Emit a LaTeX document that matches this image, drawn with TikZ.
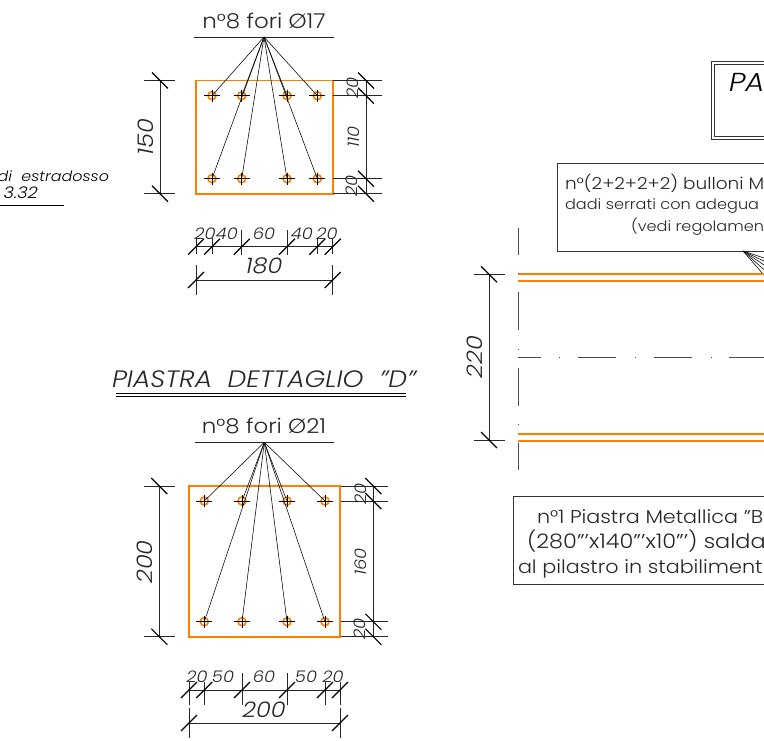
\documentclass[tikz,border=0pt]{standalone}
\usepackage{fontspec}
\setmainfont{Poppins}[UprightFont=* Light,ItalicFont=* Light Italic,BoldFont=* Light,BoldItalicFont=* Light Italic,FakeStretch=1.12]
\definecolor{plate}{RGB}{255,128,0}
\tikzset{
  dimline/.style={black!85,line width=0.6pt},
  tick/.style={black,line width=1.2pt},
  leader/.style={black,line width=0.55pt},
  plateline/.style={plate,line width=1.7pt},
  holecirc/.style={plate,line width=1.6pt},
  cross/.style={black,line width=0.8pt},
  frame/.style={black!80,line width=0.8pt},
  lab/.style={inner sep=0pt,outer sep=0pt,text=black!85},
  dimsm/.style={lab,font=\fontsize{16}{16}\selectfont\itshape},
  dimbg/.style={lab,font=\fontsize{21.5}{21.5}\selectfont\itshape},
  note/.style={lab,font=\fontsize{16.5}{16.5}\selectfont,anchor=base west},
  notenar/.style={lab,font=\fontsize{14.4}{14.4}\selectfont,anchor=base west},
  notebig/.style={lab,font=\fontsize{18.5}{18.5}\selectfont,anchor=base west},
  centerl/.style={black!70,line width=0.6pt}
}
\newcommand{\bs}[2]{\draw[tick] (#1-8,#2-8) -- (#1+8,#2+8);}
\newcommand{\fs}[2]{\draw[tick] (#1-8,#2+8) -- (#1+8,#2-8);}
\newcommand{\hole}[3]{\coordinate (#1) at (#2,#3);
  \draw[holecirc] (#1) circle (4);
  \draw[cross] (#2-8,#3) -- (#2+8,#3) (#2,#3-6) -- (#2,#3+6);}
\begin{document}
\begin{tikzpicture}[x=1pt,y=-1pt]
\useasboundingbox (0,0) rectangle (764,741);
\clip (0,0) rectangle (764,741);
% ---------- top plate
\node[lab,font=\fontsize{20.5}{20.5}\selectfont] (t1) at (264,21) {n°8 fori Ø17};
\coordinate (a1) at (264,37);
\coordinate (a1l) at (194,37);
\coordinate (a1r) at (334,37);
\draw[dimline] (a1l) -- (a1r);
\draw[plateline] (196,80.5) rectangle (332.7,193.7);
\hole{p1}{212}{95.7}\hole{p2}{241.7}{95.7}\hole{p3}{287}{95.7}\hole{p4}{317.3}{95.7}
\hole{p5}{212}{178.7}\hole{p6}{241.7}{178.7}\hole{p7}{287}{178.7}\hole{p8}{317.3}{178.7}
\foreach \n in {p1,p2,p3,p4,p5,p6,p7,p8}{\draw[leader] (a1) -- (\n);}
% left dim
\draw[dimline] (144,80.5) -- (175,80.5) (144,193.7) -- (175,193.7) (160,80.5) -- (160,193.7);
\bs{160}{80.5}\bs{160}{193.7}
\node[dimbg,rotate=90] (d150) at (146,137) {150};
% right dim
\draw[dimline] (333,80.5) -- (382,80.5) (333,95.7) -- (382,95.7) (333,178.7) -- (382,178.7) (333,193.7) -- (382,193.7) (366,80.5) -- (366,193.7);
\bs{366}{80.5}\bs{366}{95.7}\bs{366}{178.7}\bs{366}{193.7}
\node[dimsm,rotate=90] (d20a) at (353,88) {20};
\node[dimsm,rotate=90] (d110) at (354,137) {110};
\node[dimsm,rotate=90] (d20b) at (352,186) {20};
% bottom dims
\draw[dimline] (196,246.7) -- (332.7,246.7)
 (196,238) -- (196,254) (212,238) -- (212,254) (241.7,230) -- (241.7,255) (287,230) -- (287,255) (317.3,238) -- (317.3,254) (332.7,238) -- (332.7,254);
\fs{196}{246.7}\fs{212}{246.7}\fs{241.7}{246.7}\fs{287}{246.7}\fs{317.3}{246.7}\fs{332.7}{246.7}
\node[dimsm] (b1) at (205,234) {20};
\node[dimsm] (b2) at (227,234) {40};
\node[dimsm] (b3) at (264,234) {60};
\node[dimsm] (b4) at (302,234) {40};
\node[dimsm] (b5) at (327,234) {20};
\draw[dimline] (196,265) -- (196,295) (332.7,265) -- (332.7,295) (196,280) -- (332.7,280);
\fs{196}{280}\fs{332.7}{280}
\node[dimbg] (b180) at (264,266) {180};
% ---------- left fragment
\node[lab,anchor=base east,text=black,font=\fontsize{14.2}{14.2}\selectfont\itshape] (e1) at (109,182) {di\ \ estradosso};
\node[lab,anchor=base east,text=black,font=\fontsize{16}{16}\selectfont\itshape] (e2) at (38,199) {3.32};
\coordinate (e3) at (0,205.7);\coordinate (e4) at (64,205.7);
\draw[black,line width=1.1pt] (e3) -- (e4);
% ---------- title
\node[lab,anchor=base west,font=\fontsize{23.7}{23.7}\selectfont\itshape] (title) at (112,387) {PIASTRA\ \ DETTAGLIO\ \ ''D''};
\draw[black,line width=0.9pt] (116,393.5) -- (406,393.5) (116,396.7) -- (406,396.7);
% ---------- lower plate
\node[lab,font=\fontsize{20.5}{20.5}\selectfont] (t2) at (264,426) {n°8 fori Ø21};
\coordinate (a2) at (264.3,442.3);
\coordinate (a2l) at (194.7,442.3);
\coordinate (a2r) at (334,442.3);
\draw[dimline] (a2l) -- (a2r);
\draw[plateline] (189,486) rectangle (340,636.7);
\hole{q1}{204.3}{501}\hole{q2}{242}{501}\hole{q3}{287}{501}\hole{q4}{325}{501}
\hole{q5}{204.3}{621.7}\hole{q6}{242}{621.7}\hole{q7}{287}{621.7}\hole{q8}{325}{621.7}
\foreach \n in {q1,q2,q3,q4,q5,q6,q7,q8}{\draw[leader] (a2) -- (\n);}
\draw[dimline] (144,486) -- (175,486) (144,636.7) -- (175,636.7) (159.3,486) -- (159.3,636.7);
\bs{159.3}{486}\bs{159.3}{636.7}
\node[dimbg,rotate=90] (d200) at (145,562) {200};
\draw[dimline] (340.7,486) -- (388,486) (340.7,501) -- (388,501) (340.7,621.7) -- (388,621.7) (340.7,636.7) -- (388,636.7) (373.3,486) -- (373.3,636.7);
\bs{373.3}{486}\bs{373.3}{501}\bs{373.3}{621.7}\bs{373.3}{636.7}
\node[dimsm,rotate=90] (d20c) at (361,494) {20};
\node[dimsm,rotate=90] (d160) at (361,562) {160};
\node[dimsm,rotate=90] (d20d) at (360,629) {20};
\draw[dimline] (189,690) -- (340,690)
 (189,682) -- (189,705) (204.3,682) -- (204.3,705) (242,673) -- (242,705) (287,673) -- (287,705) (325,682) -- (325,705) (340,682) -- (340,705);
\fs{189}{690}\fs{204.3}{690}\fs{242}{690}\fs{287}{690}\fs{325}{690}\fs{340}{690}
\node[dimsm] (c1) at (197,677) {20};
\node[dimsm] (c2) at (223,677) {50};
\node[dimsm] (c3) at (264,677) {60};
\node[dimsm] (c4) at (306,677) {50};
\node[dimsm] (c5) at (333,677) {20};
\draw[dimline] (189,708) -- (189,738) (340,708) -- (340,738) (189,723) -- (340,723);
\fs{189}{723}\fs{340}{723}
\node[dimbg] (c200) at (264,710) {200};
% ---------- right part
\draw[frame] (711.7,61.7) rectangle (800,139);
\draw[frame] (714.5,64.5) rectangle (800,136.2);
\node[lab,anchor=base west,text=black,font=\fontsize{26}{26}\selectfont\itshape] (pa) at (729,92) {PAR};
\node[draw=black!80,line width=0.8pt,minimum width=260pt,minimum height=88pt,inner sep=0pt,anchor=north west] (box2) at (557.3,163.3) {};
\node[note] (n1) at (565,190) {n°(2+2+2+2) bulloni M};
\node[notenar] (n2) at (565,210) {dadi serrati con adegua};
\node[notenar] (n3) at (631,232) {(vedi regolamen};
\coordinate (f0) at (743,251);
\foreach \y in {257,261,266,272,279}{\draw[leader] (f0) -- (770,\y+3);}
% orange lines
\draw[plateline] (518,274.3) -- (770,274.3) (518,281) -- (770,281) (518,434) -- (770,434) (518,440.7) -- (770,440.7);
% centre lines
\draw[centerl] (518.3,228) -- (518.3,255) (518.3,272.8) -- (518.3,273.8) (518.3,291.7) -- (518.3,330) (518.3,348.5) -- (518.3,349.5) (518.3,367.7) -- (518.3,406) (518.3,424) -- (518.3,425) (518.3,443) -- (518.3,469.5);
\draw[centerl] (518,357.3) -- (541,357.3) (559,357.3) -- (560,357.3) (578,357.3) -- (616,357.3) (635,357.3) -- (636,357.3) (654,357.3) -- (692,357.3) (711,357.3) -- (712,357.3) (729,357.3) -- (770,357.3);
% dim 220
\draw[dimline] (474,274.3) -- (505,274.3) (474,440) -- (505,440) (489,274.3) -- (489,440);
\bs{489}{274.3}\bs{489}{440}
\node[dimbg,rotate=90] (d220) at (475,357) {220};
% bottom note
\node[draw=black!80,line width=0.8pt,minimum width=290pt,minimum height=88pt,inner sep=0pt,anchor=north west] (box3) at (512.7,496) {};
\node[notebig] (m1) at (537,523) {n°1 Piastra Metallica "B};
\node[notebig,font=\fontsize{20}{20}\selectfont] (m2) at (527,548) {(280'''x140'''x10''') salda};
\node[notebig] (m3) at (518,573) {al pilastro in stabiliment};
\end{tikzpicture}
\end{document}
